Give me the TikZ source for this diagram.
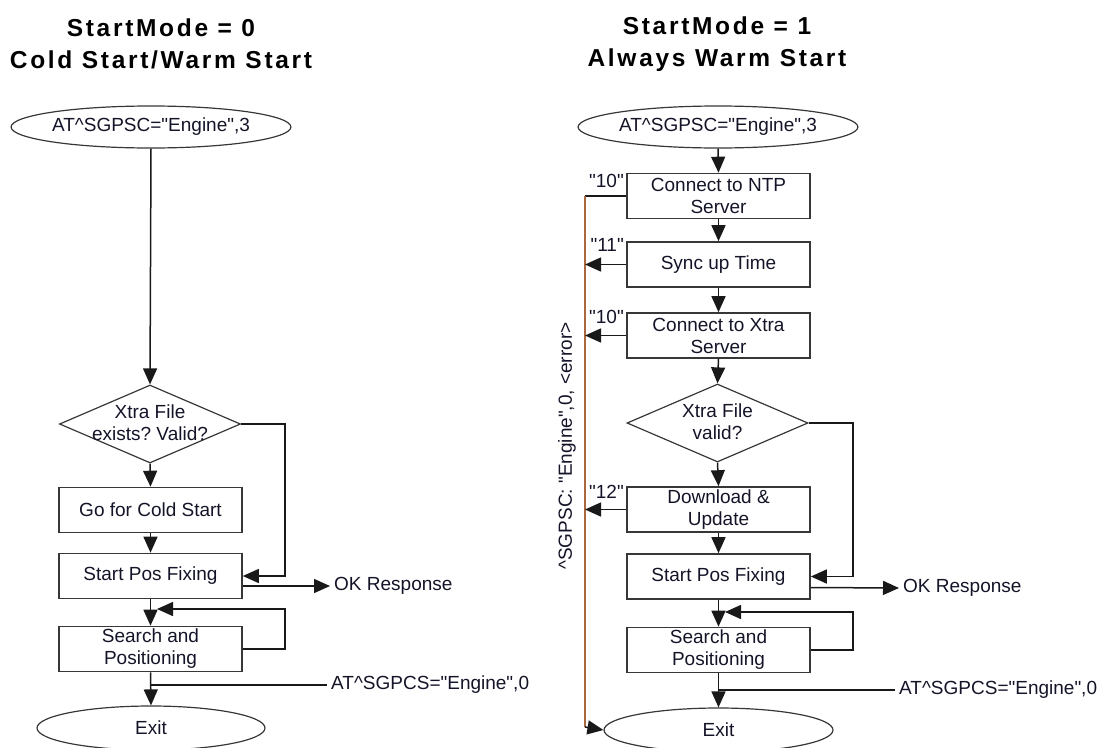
\documentclass[tikz,border=0pt]{standalone}
\usepackage{fontspec}
\setmainfont{Liberation Sans}
\newfontfamily\titlefont[LetterSpace=11]{Liberation Sans}
\usetikzlibrary{shapes.geometric,arrows.meta,calc}
\frenchspacing
\newcommand{\qq}{\textquotedbl}
\definecolor{boxc}{RGB}{55,55,55}
\definecolor{linec}{RGB}{25,25,25}
\definecolor{txtc}{RGB}{20,20,40}
\definecolor{errc}{RGB}{170,105,60}
\tikzset{
  bodyfont/.style={font=\fontsize{19}{22}\selectfont, text=txtc},
  box/.style={draw=boxc, line width=1.6pt, minimum width=183pt, minimum height=45pt, inner sep=0pt, align=center, bodyfont},
  term/.style={ellipse, draw=boxc, line width=1.2pt, minimum width=230pt, minimum height=42pt, inner sep=0pt, bodyfont},
  dec/.style={diamond, draw=boxc, line width=1.2pt, minimum width=181pt, minimum height=78pt, inner sep=0pt},
  dtext/.style={align=center, inner sep=0pt, bodyfont},
  flow/.style={line width=1.5pt, draw=linec, -{Triangle[length=16pt,width=14pt]}},
  plain/.style={line width=1.3pt, draw=linec},
  errline/.style={line width=1.3pt, draw=errc},
  lbl/.style={anchor=west, inner sep=4pt, bodyfont},
  code/.style={anchor=east, inner sep=0pt, bodyfont},
  ttl/.style={align=center, inner sep=0pt, font=\titlefont\bfseries\fontsize{24.5}{32}\selectfont, text=black},
}
\begin{document}
\begin{tikzpicture}[x=1pt,y=-1pt]
\useasboundingbox (0,0) rectangle (1103,747);

% ---------- left column ----------
\node[ttl] (tL) at (161,44) {StartMode = 0\\Cold Start/Warm Start};
\node[term] (eL) at (151,127) {AT\textasciicircum SGPSC=\qq Engine\qq,3};
\node[dec] (dL) at (150,424) {};
\node[dtext] (dLt) at (150,423) {Xtra File\\exists? Valid?};
\node[box] (cold) at (150.5,510) {Go for Cold Start};
\node[box] (spfL) at (150.5,576) {Start Pos Fixing};
\node[box] (srchL) at (150.5,649) {Search and\\Positioning};
\node[term, minimum width=228pt, minimum height=44pt] (exL) at (151,728) {Exit};
\node[lbl] (okL) at (330,586) {OK Response};
\node[lbl] (atL) at (327,685) {AT\textasciicircum SGPCS=\qq Engine\qq,0};
\coordinate (loopL) at (157,609);

\draw[flow] (eL.south) -- (dL.north);
\draw[flow] (dL.south) -- (cold.north);
\draw[flow] (cold.south) -- (spfL.north);
\draw[flow] (dL.east) -| (285,576) -- (spfL.east);
\draw[flow] ([yshift=-10pt]spfL.east) -- (okL.west);
\draw[flow] (spfL.south) -- (srchL.north);
\draw[flow] (srchL.east) -| (285,609) -- (loopL);
\draw[flow] (srchL.south) -- (exL.north);
\draw[plain] (atL.west) -- (atL.west -| srchL.south);

% ---------- right column ----------
\node[ttl] (tR) at (717,44) {StartMode = 1\\Always Warm Start};
\node[term] (eR) at (718,127) {AT\textasciicircum SGPSC=\qq Engine\qq,3};
\node[box] (ntp) at (718.5,196) {Connect to NTP\\Server};
\node[box] (sync) at (718.5,264.5) {Sync up Time};
\node[box] (xtra) at (718.5,335.5) {Connect to Xtra\\Server};
\node[dec] (dR) at (717.5,423) {};
\node[dtext] (dRt) at (717.5,422) {Xtra File\\valid?};
\node[box] (dl) at (718.5,509.5) {Download \&\\Update};
\node[box] (spfR) at (718.5,576.5) {Start Pos Fixing};
\node[box] (srchR) at (718.5,650) {Search and\\Positioning};
\node[term, minimum width=229pt, minimum height=44pt] (exR) at (718.5,730) {Exit};
\node[lbl] (okR) at (899,588) {OK Response};
\node[lbl] (atR) at (895,690) {AT\textasciicircum SGPCS=\qq Engine\qq,0};
\coordinate (loopR) at (725,612);

\node[code] (c10a) at (624,181) {\qq 10\qq};
\node[code] (c11) at (624,245) {\qq 11\qq};
\node[code] (c10b) at (624,317) {\qq 10\qq};
\node[code] (c12) at (624,492) {\qq 12\qq};
\node[rotate=90, inner sep=0pt, bodyfont] (err) at (567,446) {\textasciicircum SGPSC: \qq Engine\qq,0, <error>};

\draw[flow] (eR.south) -- (ntp.north);
\draw[flow] (ntp.south) -- (sync.north);
\draw[flow] (sync.south) -- (xtra.north);
\draw[flow] (xtra.south) -- (dR.north);
\draw[flow] (dR.south) -- (dl.north);
\draw[flow] (dl.south) -- (spfR.north);
\draw[flow] (dR.east) -| (853,576.5) -- (spfR.east);
\draw[flow] ([yshift=-11pt]spfR.east) -- (okR.west);
\draw[flow] (spfR.south) -- (srchR.north);
\draw[flow] (srchR.east) -| (853,612) -- (loopR);
\draw[flow] (srchR.south) -- (exR.north);
\draw[plain] (atR.west) -- (atR.west -| srchR.south);

% error path
\coordinate (bTop) at (585,196);
\coordinate (bBot) at (585,727);
\draw[plain] (ntp.west) -- (bTop);
\draw[errline] (bTop) -- (bBot);
\draw[flow] (bBot) -- (exR.west);
\draw[flow] (sync.west) -- (sync.west -| bTop);
\draw[flow] (xtra.west) -- (xtra.west -| bTop);
\draw[flow] (dl.west) -- (dl.west -| bTop);
\end{tikzpicture}
\end{document}
